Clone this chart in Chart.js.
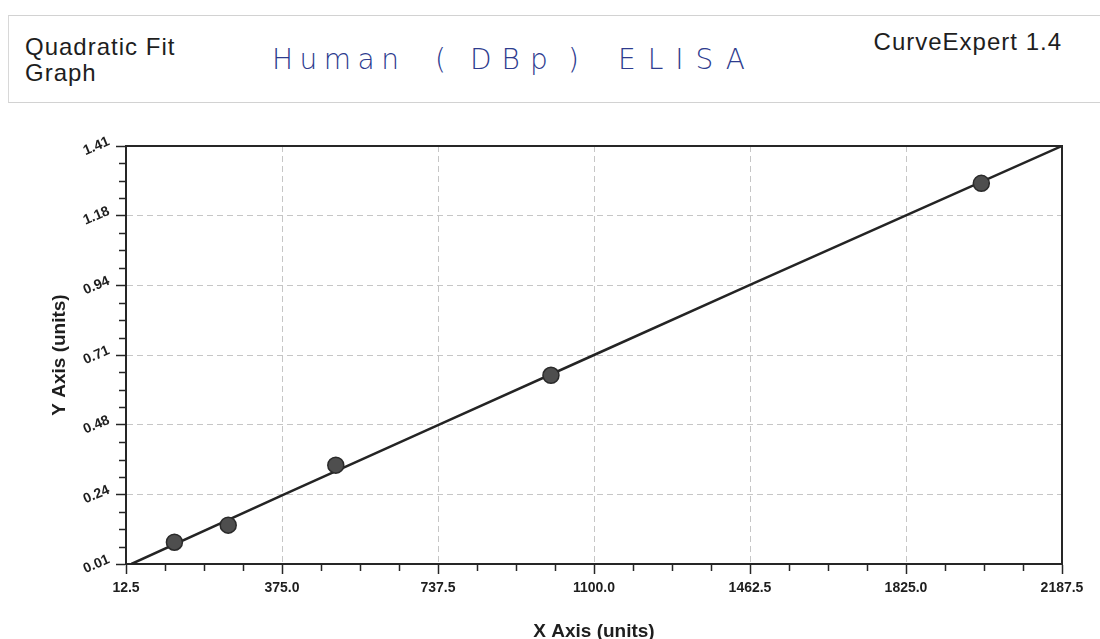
<!DOCTYPE html>
<html>
<head>
<meta charset="utf-8">
<script src="https://cdn.jsdelivr.net/npm/chart.js@4.4.1/dist/chart.umd.min.js"></script>
<style>
  html, body { margin: 0; padding: 0; background: #ffffff; }
  #wrap { position: relative; width: 1100px; height: 639px; overflow: hidden; }
  #c { position: absolute; left: 0; top: 0; }
  .hdr { position: absolute; font-family: "Liberation Sans", Arial, sans-serif; font-size: 24px; line-height: 26px; color: #1e1e1e; letter-spacing: 1px; white-space: nowrap; }
  #box { position: absolute; left: 8px; top: 15px; width: 1092px; height: 88px; border-top: 1px solid #d2d2d2; border-left: 1px solid #d8d8d8; border-bottom: 1px solid #d2d2d2; box-sizing: border-box; }
  .hw { position: absolute; font-family: "DejaVu Sans", sans-serif; font-weight: 200; font-size: 28px; line-height: 28px; color: #2d3b8e; white-space: nowrap; }
</style>
</head>
<body>
<div id="wrap">
  <div id="box"></div>
  <div class="hdr" style="left:25px; top:34px;">Quadratic Fit<br>Graph</div>
  <div class="hdr" style="right:38px; top:29px;">CurveExpert 1.4</div>
  <div class="hw" style="left:272px; top:46px; letter-spacing:6.5px;">Human</div>
  <div class="hw" style="left:435px; top:46px;">(</div>
  <div class="hw" style="left:470px; top:46px; letter-spacing:10px;">DBp</div>
  <div class="hw" style="left:568px; top:46px;">)</div>
  <div class="hw" style="left:618px; top:46px; letter-spacing:12px;">ELISA</div>
  <canvas id="c" width="1100" height="639"></canvas>
</div>
<script>
// ---- data ----
const xTickValues = [12.5, 375.0, 737.5, 1100.0, 1462.5, 1825.0, 2187.5];
const xTickLabels = ['12.5', '375.0', '737.5', '1100.0', '1462.5', '1825.0', '2187.5'];
const yTickValues = [0.01, 0.2433, 0.4767, 0.71, 0.9433, 1.1767, 1.41];
const yTickLabels = ['0.01', '0.24', '0.48', '0.71', '0.94', '1.18', '1.41'];

const concentration = [125, 250, 500, 1000, 2000];
const absorbance = [0.083, 0.140, 0.341, 0.642, 1.285];

const fitX = [25, 375, 737.5, 1100, 1462.5, 1825, 2187.5];
const fitY = [0.01, 0.24, 0.475, 0.71, 0.945, 1.178, 1.41];

const xTitle = 'X Axis (units)';
const yTitle = 'Y Axis (units)';

// ---- chart ----
const FONT = '"Liberation Sans", Arial, sans-serif';
const AXIS = '#262626';

const frameAndMinorTicks = {
  id: 'frameAndMinorTicks',
  afterDraw(chart) {
    const { ctx, chartArea: a, scales: { x, y } } = chart;
    ctx.save();
    ctx.strokeStyle = AXIS;
    ctx.lineWidth = 2;
    ctx.beginPath();
    ctx.moveTo(a.left, a.top);
    ctx.lineTo(a.right, a.top);
    ctx.lineTo(a.right, a.bottom);
    ctx.stroke();
    ctx.lineWidth = 1.5;
    ctx.beginPath();
    for (let i = 0; i < xTickValues.length - 1; i++) {
      for (let k = 1; k < 4; k++) {
        const v = xTickValues[i] + (xTickValues[i + 1] - xTickValues[i]) * k / 4;
        const px = Math.round(x.getPixelForValue(v)) + 0.5;
        ctx.moveTo(px, a.bottom);
        ctx.lineTo(px, a.bottom + 7);
      }
    }
    for (let i = 0; i < yTickValues.length - 1; i++) {
      for (let k = 1; k < 4; k++) {
        const v = yTickValues[i] + (yTickValues[i + 1] - yTickValues[i]) * k / 4;
        const py = Math.round(y.getPixelForValue(v)) + 0.5;
        ctx.moveTo(a.left, py);
        ctx.lineTo(a.left - 7, py);
      }
    }
    ctx.stroke();
    ctx.restore();
  }
};

new Chart(document.getElementById('c'), {
  type: 'scatter',
  data: {
    datasets: [
      {
        label: 'Quadratic fit',
        data: fitX.map((v, i) => ({ x: v, y: fitY[i] })),
        showLine: true,
        borderColor: '#242424',
        borderWidth: 2.5,
        pointRadius: 0,
        tension: 0,
        order: 2
      },
      {
        label: 'Data',
        data: concentration.map((v, i) => ({ x: v, y: absorbance[i] })),
        pointRadius: 8,
        backgroundColor: '#4e4e4e',
        borderColor: '#2a2a2a',
        borderWidth: 1.5,
        order: 1
      }
    ]
  },
  options: {
    responsive: false,
    animation: false,
    layout: { padding: { top: 146, right: 38, left: 0, bottom: 0 } },
    plugins: { legend: { display: false }, tooltip: { enabled: false } },
    scales: {
      x: {
        type: 'linear',
        min: xTickValues[0],
        max: xTickValues[xTickValues.length - 1],
        afterBuildTicks: s => { s.ticks = xTickValues.map(v => ({ value: v })); },
        afterFit: s => { s.height = 75; },
        grid: { color: '#c6c6c6', lineWidth: 1, tickLength: 10, tickColor: AXIS, tickWidth: 1.5 },
        border: { display: true, color: AXIS, width: 2, dash: [6, 4] },
        ticks: {
          autoSkip: false, maxRotation: 0, minRotation: 0, padding: 6,
          color: '#1e1e1e', font: { family: FONT, size: 14, weight: 'bold' },
          callback: (v, i) => xTickLabels[i]
        },
        title: {
          display: true, text: xTitle, color: '#1e1e1e',
          font: { family: FONT, size: 19, weight: 'bold', lineHeight: 1 },
          padding: { top: 0, bottom: -2 }
        }
      },
      y: {
        type: 'linear',
        min: yTickValues[0],
        max: yTickValues[yTickValues.length - 1],
        afterBuildTicks: s => { s.ticks = yTickValues.map(v => ({ value: v })); },
        afterFit: s => { s.width = 126; },
        grid: { color: '#c6c6c6', lineWidth: 1, tickLength: 10, tickColor: AXIS, tickWidth: 1.5 },
        border: { display: true, color: AXIS, width: 2, dash: [6, 4] },
        ticks: {
          autoSkip: false, minRotation: 23, maxRotation: 23, padding: 7, labelOffset: -5,
          color: '#1e1e1e', font: { family: FONT, size: 14, weight: 'bold' },
          callback: (v, i) => yTickLabels[i]
        },
        title: {
          display: true, text: yTitle, color: '#1e1e1e',
          font: { family: FONT, size: 19, weight: 'bold', lineHeight: 1 },
          padding: { top: 50, bottom: 0 }
        }
      }
    }
  },
  plugins: [frameAndMinorTicks]
});
</script>
</body>
</html>
